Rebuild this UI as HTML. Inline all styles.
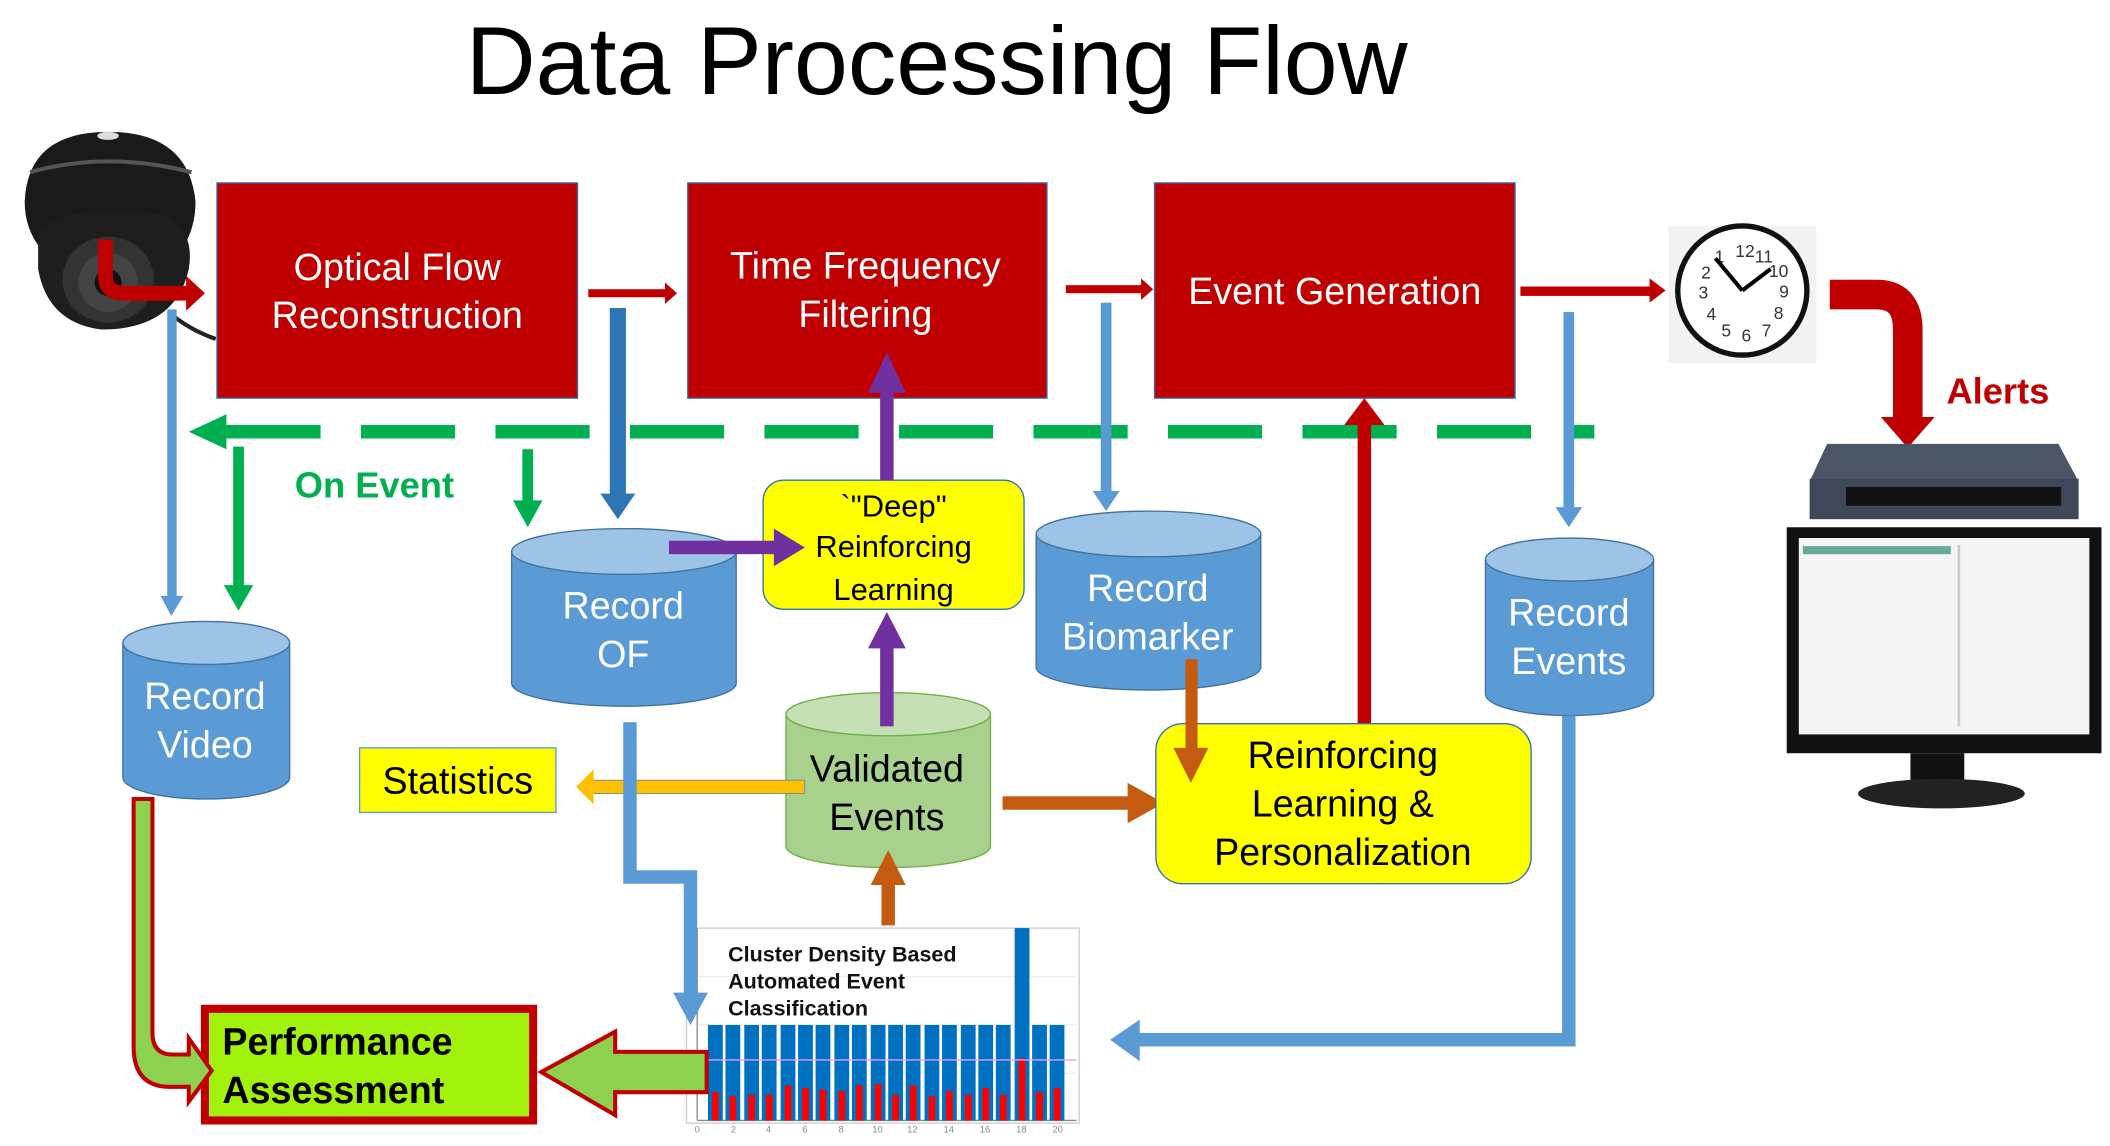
<!DOCTYPE html>
<html><head><meta charset="utf-8"><style>
html,body{margin:0;padding:0;background:#fff;}
svg{display:block;}
text{font-family:"Liberation Sans",sans-serif;}
</style></head><body>
<svg width="2110" height="1146" viewBox="0 0 1568 852" xmlns="http://www.w3.org/2000/svg">
<text x="696" y="70" font-size="72" text-anchor="middle" fill="#000">Data Processing Flow</text>

<!-- camera -->
<g>
<path d="M18 150 Q20 98 80 98 Q140 98 145 150 Q145 170 135 185 L30 185 Q18 170 18 150 Z" fill="#1a1a1a"/>
<ellipse cx="80" cy="101" rx="8" ry="3" fill="#ddd"/>
<path d="M22 128 Q80 112 142 128" stroke="#555" stroke-width="3" fill="none"/>
<path d="M28 170 Q60 150 120 160 Q145 170 140 200 Q130 245 75 245 Q35 240 28 200 Z" fill="#1e1e1e"/>
<ellipse cx="80" cy="208" rx="34" ry="32" fill="#333"/>
<ellipse cx="80" cy="210" rx="22" ry="22" fill="#444"/>
<ellipse cx="80" cy="210" rx="10" ry="10" fill="#111"/>
<path d="M125 232 Q140 245 160 252" stroke="#222" stroke-width="3" fill="none"/>
</g>
<path d="M78 178 L78 205 Q78 218 92 218 L140 218" stroke="#C00000" stroke-width="11" fill="none"/>
<polygon points="138,205 152,218 138,231" fill="#C00000"/>

<!-- red boxes -->
<rect x="161" y="136" width="268" height="160" fill="#C00000" stroke="#3465a4" stroke-width="1"/>
<rect x="511" y="136" width="267" height="160" fill="#C00000" stroke="#3465a4" stroke-width="1"/>
<rect x="858" y="136" width="268" height="160" fill="#C00000" stroke="#3465a4" stroke-width="1"/>
<text x="295" y="208" font-size="28" fill="#fff" text-anchor="middle">Optical Flow</text>
<text x="295" y="244" font-size="28" fill="#fff" text-anchor="middle">Reconstruction</text>
<text x="643" y="207" font-size="28" fill="#fff" text-anchor="middle">Time Frequency</text>
<text x="643" y="243" font-size="28" fill="#fff" text-anchor="middle">Filtering</text>
<text x="992" y="226" font-size="28" fill="#fff" text-anchor="middle">Event Generation</text>

<!-- red connectors -->
<rect x="437" y="215" width="58" height="6" fill="#C00000"/><polygon points="494,210 503,218 494,226" fill="#C00000"/>
<rect x="792" y="212" width="57" height="6" fill="#C00000"/><polygon points="848,207 857,215 848,223" fill="#C00000"/>
<rect x="1130" y="213" width="98" height="7" fill="#C00000"/><polygon points="1226,207 1238,216 1226,225" fill="#C00000"/>

<!-- clock -->
<rect x="1240" y="168" width="110" height="102" fill="#f2f2f2"/>
<circle cx="1295" cy="216" r="48" fill="#fff" stroke="#111" stroke-width="4"/>
<g font-size="13" fill="#333" text-anchor="middle">
<text x="1297" y="191">12</text><text x="1311" y="195">11</text><text x="1322" y="206">10</text><text x="1326" y="221">9</text><text x="1322" y="237">8</text><text x="1313" y="250">7</text><text x="1298" y="254">6</text><text x="1283" y="250">5</text><text x="1272" y="238">4</text><text x="1266" y="222">3</text><text x="1268" y="207">2</text><text x="1278" y="195">1</text>
</g>
<line x1="1295" y1="216" x2="1275" y2="192" stroke="#000" stroke-width="3"/>
<line x1="1295" y1="216" x2="1316" y2="200" stroke="#000" stroke-width="3"/>

<!-- alert arrow -->
<path d="M1360 219 L1395 219 Q1418 219 1418 245 L1418 312" stroke="#C00000" stroke-width="22" fill="none"/>
<polygon points="1398,310 1438,310 1418,333" fill="#C00000"/>
<text x="1485" y="300" font-size="27" font-weight="bold" fill="#C00000" text-anchor="middle">Alerts</text>

<!-- switch -->
<polygon points="1358,330 1530,330 1545,358 1345,358" fill="#4a5566"/>
<rect x="1345" y="356" width="200" height="30" fill="#3e4858"/>
<rect x="1372" y="362" width="160" height="14" fill="#111"/>
<!-- monitor -->
<rect x="1328" y="392" width="234" height="168" fill="#111"/>
<rect x="1337" y="400" width="216" height="146" fill="#f4f4f4"/>
<rect x="1340" y="406" width="110" height="6" fill="#6a9"/>
<rect x="1455" y="405" width="2" height="135" fill="#ccc"/>
<rect x="1420" y="560" width="40" height="25" fill="#111"/>
<ellipse cx="1443" cy="590" rx="62" ry="11" fill="#222"/>

<!-- green dashed -->
<line x1="168" y1="321" x2="1185" y2="321" stroke="#00B050" stroke-width="10" stroke-dasharray="70 30"/>
<polygon points="168,308 140,321 168,334" fill="#00B050"/>
<rect x="168" y="316" width="12" height="10" fill="#00B050"/>

<!-- blue from camera -->
<rect x="124" y="230" width="7" height="215" fill="#5B9BD5"/>
<polygon points="119,443 136,443 127,458" fill="#5B9BD5"/>
<!-- green down arrows -->
<rect x="173" y="332" width="8" height="105" fill="#00B050"/>
<polygon points="166,435 188,435 177,454" fill="#00B050"/>
<text x="278" y="370" font-size="27" font-weight="bold" fill="#00B050" text-anchor="middle">On Event</text>
<rect x="388" y="334" width="8" height="40" fill="#00B050"/>
<polygon points="381,372 403,372 392,392" fill="#00B050"/>
<!-- dark blue thick -->
<rect x="453" y="229" width="12" height="140" fill="#2E75B6"/>
<polygon points="446,367 472,367 459,386" fill="#2E75B6"/>
<!-- blue to biomarker & events -->
<rect x="818" y="225" width="8" height="142" fill="#5B9BD5"/>
<polygon points="812,365 832,365 822,380" fill="#5B9BD5"/>
<rect x="1162" y="232" width="8" height="146" fill="#5B9BD5"/>
<polygon points="1156,377 1176,377 1166,392" fill="#5B9BD5"/>

<!-- cylinders -->
<g stroke="#41719C" stroke-width="1">
<path d="M380 410 L380 508 A83.5 17 0 0 0 547 508 L547 410" fill="#5B9BD5"/>
<ellipse cx="463.5" cy="410" rx="83.5" ry="17" fill="#9DC3E6"/>
<path d="M770 397 L770 496 A83.5 17 0 0 0 937 496 L937 397" fill="#5B9BD5"/>
<ellipse cx="853.5" cy="397" rx="83.5" ry="17" fill="#9DC3E6"/>
<path d="M1104 416 L1104 516 A62.5 16 0 0 0 1229 516 L1229 416" fill="#5B9BD5"/>
<ellipse cx="1166.5" cy="416" rx="62.5" ry="16" fill="#9DC3E6"/>
<path d="M91 478 L91 578 A62 16 0 0 0 215 578 L215 478" fill="#5B9BD5"/>
<ellipse cx="153" cy="478" rx="62" ry="16" fill="#9DC3E6"/>
</g>
<g stroke="#71AD47" stroke-width="1">
<path d="M584 531 L584 629 A76 16 0 0 0 736 629 L736 531" fill="#A9D18E"/>
<ellipse cx="660" cy="531" rx="76" ry="16" fill="#C5E0B4"/>
</g>
<g font-size="28" fill="#fff" text-anchor="middle">
<text x="463" y="460">Record</text><text x="463" y="496">OF</text>
<text x="853" y="447">Record</text><text x="853" y="483">Biomarker</text>
<text x="1166" y="465">Record</text><text x="1166" y="501">Events</text>
<text x="152" y="527">Record</text><text x="152" y="563">Video</text>
</g>
<text x="659" y="581" font-size="28" fill="#000" text-anchor="middle">Validated</text>
<text x="659" y="617" font-size="28" fill="#000" text-anchor="middle">Events</text>

<!-- deep box -->
<rect x="567" y="357" width="194" height="96" rx="15" fill="#FFFF00" stroke="#2E75B6" stroke-width="1"/>
<text x="664" y="384" font-size="23" text-anchor="middle">`"Deep"</text>
<text x="664" y="414" font-size="23" text-anchor="middle">Reinforcing</text>
<text x="664" y="446" font-size="23" text-anchor="middle">Learning</text>
<!-- purple -->
<rect x="497" y="402" width="80" height="10" fill="#7030A0"/>
<polygon points="575,393 598,407 575,421" fill="#7030A0"/>
<rect x="654" y="290" width="10" height="67" fill="#7030A0"/>
<polygon points="645,292 673,292 659,262" fill="#7030A0"/>
<rect x="654" y="480" width="10" height="60" fill="#7030A0"/>
<polygon points="645,482 673,482 659,455" fill="#7030A0"/>

<!-- red up to event gen -->
<rect x="1009" y="312" width="10" height="226" fill="#C00000"/>
<polygon points="999,316 1029,316 1014,296" fill="#C00000"/>

<!-- statistics -->
<rect x="267" y="556" width="146" height="48" fill="#FFFF00" stroke="#5B9BD5" stroke-width="1"/>
<text x="340" y="590" font-size="28" text-anchor="middle">Statistics</text>
<rect x="440" y="580" width="158" height="10" fill="#FFC000" stroke="#4472C4" stroke-width="0.5"/>
<polygon points="441,572 428,585 441,598" fill="#FFC000"/>

<!-- orange arrows -->
<rect x="745" y="592" width="100" height="10" fill="#C55A11"/>
<polygon points="838,582 865,597 838,612" fill="#C55A11"/>
<rect x="655" y="655" width="10" height="33" fill="#C55A11"/>
<polygon points="647,658 673,658 660,632" fill="#C55A11"/>

<!-- reinforcing box -->
<rect x="859" y="538" width="279" height="119" rx="20" fill="#FFFF00" stroke="#2E75B6" stroke-width="1"/>
<g font-size="28" text-anchor="middle">
<text x="998" y="571">Reinforcing</text><text x="998" y="607">Learning &amp;</text><text x="998" y="643">Personalization</text>
</g>
<rect x="881" y="490" width="9" height="68" fill="#C55A11"/>
<polygon points="872,556 898,556 885,582" fill="#C55A11"/>

<!-- chart -->
<rect x="510" y="690" width="292" height="145" fill="#fff" stroke="#ccc" stroke-width="1"/>
<g stroke="#eee" stroke-width="1">
<line x1="518" y1="798" x2="800" y2="798"/><line x1="518" y1="762" x2="800" y2="762"/><line x1="518" y1="726" x2="800" y2="726"/>
</g>
<line x1="518" y1="690" x2="518" y2="833" stroke="#888"/>
<line x1="518" y1="833" x2="800" y2="833" stroke="#888"/>
<g fill="#0070C0">
<rect x="526" y="762" width="11" height="71"/><rect x="539" y="762" width="11" height="71"/><rect x="553" y="762" width="11" height="71"/><rect x="566" y="762" width="11" height="71"/><rect x="580" y="762" width="11" height="71"/><rect x="593" y="762" width="11" height="71"/><rect x="606" y="762" width="11" height="71"/><rect x="620" y="762" width="11" height="71"/><rect x="633" y="762" width="11" height="71"/><rect x="647" y="762" width="11" height="71"/><rect x="660" y="762" width="11" height="71"/><rect x="673" y="762" width="11" height="71"/><rect x="687" y="762" width="11" height="71"/><rect x="700" y="762" width="11" height="71"/><rect x="714" y="762" width="11" height="71"/><rect x="727" y="762" width="11" height="71"/><rect x="740" y="762" width="11" height="71"/><rect x="754" y="690" width="11" height="143"/><rect x="767" y="762" width="11" height="71"/><rect x="780" y="762" width="11" height="71"/>
</g>
<g fill="#FF0000">
<rect x="529" y="812" width="5" height="21"/><rect x="542" y="815" width="5" height="18"/><rect x="556" y="814" width="5" height="19"/><rect x="569" y="814" width="5" height="19"/><rect x="583" y="807" width="5" height="26"/><rect x="596" y="809" width="5" height="24"/><rect x="609" y="810" width="5" height="23"/><rect x="623" y="811" width="5" height="22"/><rect x="636" y="807" width="5" height="26"/><rect x="650" y="806" width="5" height="27"/><rect x="663" y="814" width="5" height="19"/><rect x="676" y="807" width="5" height="26"/><rect x="690" y="815" width="5" height="18"/><rect x="703" y="811" width="5" height="22"/><rect x="717" y="814" width="5" height="19"/><rect x="730" y="809" width="5" height="24"/><rect x="743" y="814" width="5" height="19"/><rect x="757" y="787" width="5" height="46"/><rect x="770" y="812" width="5" height="21"/><rect x="783" y="809" width="5" height="24"/>
</g>
<line x1="518" y1="788" x2="800" y2="788" stroke="#e0a0ff" stroke-width="1"/>
<g font-size="16" font-weight="bold" fill="#111">
<text x="541" y="715">Cluster Density  Based</text><text x="541" y="735">Automated Event</text><text x="541" y="755">Classification</text>
</g>
<g font-size="7" fill="#888" text-anchor="middle">
<text x="518" y="842">0</text><text x="545" y="842">2</text><text x="571" y="842">4</text><text x="598" y="842">6</text><text x="625" y="842">8</text><text x="652" y="842">10</text><text x="678" y="842">12</text><text x="705" y="842">14</text><text x="732" y="842">16</text><text x="759" y="842">18</text><text x="786" y="842">20</text>
</g>

<!-- blue line from Record OF down to chart (on top) -->
<path d="M468 537 L468 652 L513 652 L513 742" stroke="#5B9BD5" stroke-width="10" fill="none"/>
<polygon points="500,738 526,738 513,762" fill="#5B9BD5"/>

<!-- blue from Record Events to chart -->
<path d="M1166 532 L1166 773 L845 773" stroke="#5B9BD5" stroke-width="10" fill="none"/>
<polygon points="847,758 825,773 847,789" fill="#5B9BD5"/>

<!-- performance box -->
<rect x="152" y="750" width="244" height="83" fill="#A2F10D" stroke="#C00000" stroke-width="6"/>
<text x="165" y="784" font-size="28" font-weight="bold">Performance</text>
<text x="165" y="820" font-size="28" font-weight="bold">Assessment</text>
<!-- big arrow from chart -->
<polygon points="525,782 457,782 457,767 402,797 457,829 457,812 525,812" fill="#8ED14F" stroke="#C00000" stroke-width="3"/>
<!-- green L from video -->
<path d="M99 594 L113 594 L113 768 Q113 784 128 784 L140 784 L140 772 L157 796 L140 819 L140 808 L126 808 Q99 808 99 778 Z" fill="#8ED14F" stroke="#C00000" stroke-width="3" stroke-linejoin="miter"/>
</svg>
</body></html>
